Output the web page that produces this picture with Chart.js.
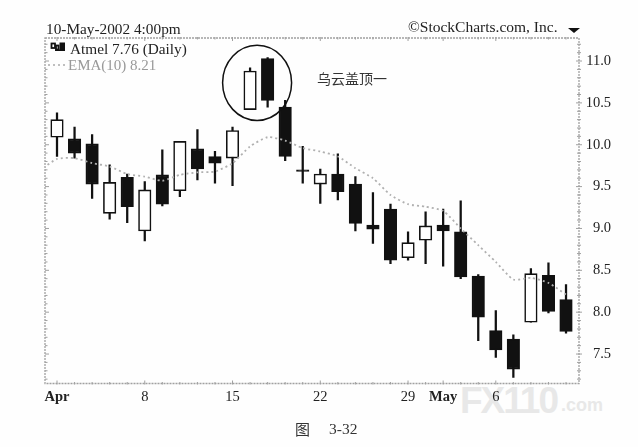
<!DOCTYPE html>
<html>
<head>
<meta charset="utf-8">
<script src="https://cdn.jsdelivr.net/npm/chart.js@4"></script>
<style>
  html, body { margin: 0; padding: 0; background: #fefefe; }
  #wrap { position: relative; width: 638px; height: 447px; overflow: hidden; }
  #priceChart { position: absolute; left: 0; top: 0; z-index: 1; }
  .txt { position: absolute; z-index: 2; white-space: nowrap; line-height: 1; color: #222; font-family: "Liberation Serif", serif; font-size: 15.3px; }
  .cjk { font-family: "Noto Sans CJK SC", sans-serif; }
  .mark { position: absolute; z-index: 0; white-space: nowrap; line-height: 1; color: #e8e8e8; font-family: "Liberation Sans", sans-serif; font-weight: bold; }
</style>
</head>
<body>
<div id="wrap">
  <span class="mark" style="left:460px;top:382px;font-size:37px;letter-spacing:-2px;">FX110</span>
  <span class="mark" style="left:561px;top:396px;font-size:18px;">.com</span>
  <canvas id="priceChart" width="638" height="447"></canvas>
  <span class="txt" style="left:46px;top:21px;">10-May-2002 4:00pm</span>
  <span class="txt" style="left:408px;top:19px;font-size:15.5px;">©StockCharts.com, Inc.</span>
  <span class="txt" style="left:70px;top:41px;">Atmel 7.76 (Daily)</span>
  <span class="txt" style="left:68px;top:58px;font-size:15px;color:#999;">EMA(10) 8.21</span>
  <span class="txt cjk" style="left:317px;top:71px;font-size:14px;color:#333;">乌云盖顶一</span>
  <span class="txt cjk" style="left:295px;top:421px;font-size:15px;color:#333;">图</span>
  <span class="txt" style="left:329px;top:421px;font-size:15.5px;color:#333;">3-32</span>
</div>
<script>
// Trading days, label only where the axis prints one
const dayLabels = ["Apr","","","","","8","","","","","15","","","","","22","","","","","29","","May","","","6","","","",""];

const opens  = [10.09,10.07,10.01,9.18,9.61,8.97,9.64,9.45,9.95,9.86,9.84,10.42,11.03,10.45,9.70,9.53,9.65,9.53,9.04,9.23,8.65,8.86,9.04,8.96,8.43,7.78,7.68,7.88,8.44,8.15];
const highs  = [10.38,10.21,10.12,9.76,9.65,9.56,9.94,10.04,10.18,9.92,10.21,10.92,11.04,10.53,9.98,9.71,9.89,9.62,9.43,9.29,8.96,9.20,9.23,9.33,8.45,8.02,7.73,8.52,8.59,8.33];
const lows   = [9.86,9.84,9.36,9.11,9.07,8.85,9.27,9.38,9.58,9.54,9.51,10.42,10.45,9.81,9.54,9.30,9.34,8.97,8.82,8.58,8.62,8.58,8.55,8.40,7.66,7.46,7.22,7.88,7.99,7.75];
const closes = [10.30,9.90,9.53,9.55,9.26,9.46,9.29,10.04,9.71,9.78,10.17,10.88,10.53,9.86,9.68,9.65,9.44,9.06,8.99,8.62,8.83,9.03,8.97,8.42,7.94,7.55,7.32,8.46,8.01,7.77];

// EMA(10), first value belongs to the session before the window
const emaValues = [9.69,9.83,9.84,9.78,9.74,9.65,9.62,9.57,9.64,9.67,9.68,9.78,9.98,10.09,10.05,9.96,9.92,9.86,9.72,9.60,9.40,9.29,9.26,9.21,9.00,8.80,8.60,8.39,8.41,8.35,8.21];

const priceTicks = [7.5,8.0,8.5,9.0,9.5,10.0,10.5,11.0];
const priceMin = 7.148, priceMax = 11.275;
const dayMin = -0.684, dayMax = 29.74;

const inkColor = "#111111";
const axisColor = "#a0a0a0";

const wickData = dayLabels.map((d, i) => ({ x: i, y: [lows[i], highs[i]] }));
const bodyData = dayLabels.map((d, i) => ({ x: i, y: [opens[i], closes[i]] }));
const emaData = emaValues.map((v, i) => ({ x: i - 1, y: v }));

// Dotted frame with the small StockCharts ticks on all four sides
const axisFrame = {
  id: "axisFrame",
  afterDatasetsDraw(chart) {
    const { ctx, chartArea: a, scales: { x, y } } = chart;
    ctx.save();
    ctx.strokeStyle = axisColor;
    ctx.lineWidth = 1.3;
    ctx.setLineDash([2, 1]);
    ctx.strokeRect(a.left, a.top, a.right - a.left, a.bottom - a.top);
    ctx.setLineDash([]);
    ctx.lineWidth = 1;
    ctx.beginPath();
    for (let v = 72; v <= 112; v++) {
      const py = y.getPixelForValue(v / 10);
      const major = v % 5 === 0;
      ctx.moveTo(a.left, py);
      ctx.lineTo(a.left + (major ? 4 : 2.5), py);
      ctx.moveTo(a.right - (major ? 3 : 2), py);
      ctx.lineTo(a.right + (major ? 3 : 2), py);
    }
    dayLabels.forEach((d, i) => {
      const px = x.getPixelForValue(i);
      const len = d ? 3 : 1.5;
      ctx.moveTo(px, a.top - 1);
      ctx.lineTo(px, a.top + len);
      ctx.moveTo(px, a.bottom + 1);
      ctx.lineTo(px, a.bottom - len);
    });
    ctx.stroke();
    ctx.restore();
  }
};

// Hand-drawn ring round the dark cloud pair, legend glyphs and the corner arrow
const chartMarks = {
  id: "chartMarks",
  afterDraw(chart) {
    const { ctx, scales: { x, y } } = chart;
    ctx.save();
    ctx.strokeStyle = inkColor;
    ctx.lineWidth = 1.5;
    ctx.beginPath();
    ctx.ellipse(x.getPixelForValue(11.4), y.getPixelForValue(10.74), 34.5, 37.6, 0, 0, Math.PI * 2);
    ctx.stroke();

    // candle icon in the legend
    ctx.lineWidth = 1.8;
    ctx.strokeRect(51.5, 43.5, 3.5, 4.5);
    ctx.strokeRect(56, 45.5, 2.5, 4);
    ctx.fillStyle = inkColor;
    ctx.fillRect(59.5, 42.5, 5.5, 8);
    ctx.fillRect(55, 49.5, 10, 1.5);

    // dotted EMA key
    ctx.strokeStyle = "#aaaaaa";
    ctx.lineWidth = 1.5;
    ctx.setLineDash([2, 3]);
    ctx.beginPath();
    ctx.moveTo(48, 65);
    ctx.lineTo(66, 65);
    ctx.stroke();
    ctx.setLineDash([]);

    // arrow next to the copyright
    ctx.beginPath();
    ctx.moveTo(568, 28);
    ctx.lineTo(580, 28);
    ctx.lineTo(574, 33);
    ctx.closePath();
    ctx.fill();
    ctx.restore();
  }
};

const ctx = document.getElementById("priceChart").getContext("2d");
new Chart(ctx, {
  type: "bar",
  data: {
    datasets: [
      {
        type: "line",
        label: "EMA(10)",
        data: emaData,
        borderColor: "#b0b0b0",
        borderWidth: 1.8,
        borderDash: [2, 3],
        pointRadius: 0,
        tension: 0.2,
        order: 0
      },
      {
        label: "Atmel body",
        data: bodyData,
        grouped: false,
        barThickness: 12.5,
        borderWidth: 1.6,
        borderSkipped: false,
        borderColor: inkColor,
        backgroundColor: closes.map((c, i) => (c > opens[i] ? "#ffffff" : inkColor)),
        order: 1
      },
      {
        label: "Atmel range",
        data: wickData,
        grouped: false,
        barThickness: 1.6,
        borderWidth: 0,
        backgroundColor: inkColor,
        order: 2
      }
    ]
  },
  options: {
    responsive: false,
    animation: false,
    layout: { padding: { left: 45, top: 38, right: 27, bottom: 0 } },
    plugins: { legend: { display: false }, tooltip: { enabled: false } },
    scales: {
      x: {
        type: "linear",
        offset: false,
        min: dayMin,
        max: dayMax,
        grid: { display: false, tickLength: 0 },
        border: { display: false },
        afterBuildTicks(scale) {
          scale.ticks = dayLabels.map((d, i) => ({ value: i, text: d })).filter(t => t.text !== "").map(t => ({ value: t.value }));
        },
        afterFit(scale) { scale.height = 63.5; },
        ticks: {
          autoSkip: false,
          maxRotation: 0,
          padding: 5,
          color: "#222222",
          callback: value => dayLabels[value],
          font: c => ({
            family: "'Liberation Serif', serif",
            size: 14.5,
            weight: c.tick && /[A-Za-z]/.test(dayLabels[c.tick.value]) ? "bold" : "normal"
          })
        }
      },
      y: {
        position: "right",
        min: priceMin,
        max: priceMax,
        grid: { display: false },
        border: { display: false },
        afterBuildTicks(scale) {
          scale.ticks = priceTicks.map(v => ({ value: v }));
        },
        afterFit(scale) { scale.width = 32; },
        ticks: {
          autoSkip: false,
          crossAlign: "far",
          padding: 0,
          color: "#222222",
          callback: value => value.toFixed(1),
          font: { family: "'Liberation Serif', serif", size: 14.5 }
        }
      }
    }
  },
  plugins: [axisFrame, chartMarks]
});
</script>
</body>
</html>
